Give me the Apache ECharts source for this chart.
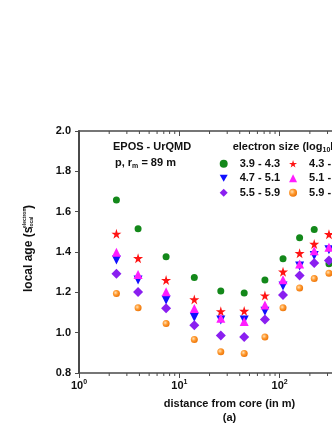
<!DOCTYPE html>
<html>
<head>
<meta charset="utf-8">
<script src="https://cdn.jsdelivr.net/npm/echarts@6/dist/echarts.min.js"></script>
<style>
  html, body { margin: 0; padding: 0; background: #fff; overflow: hidden; }
  #chart { width: 420px; height: 430px; }
</style>
</head>
<body>
<div id="chart"></div>
<script>
// distance from core (m), one bin per column
const distances = [2.36, 3.88, 7.38, 14.1, 25.9, 44.3, 71.3, 108, 158, 221, 310];

// local age per electron size bin
const age39_43 = [1.658, 1.515, 1.376, 1.274, 1.207, 1.197, 1.261, 1.366, 1.471, 1.511, 1.342];
const age43_47 = [1.490, 1.369, 1.261, 1.165, 1.106, 1.108, 1.184, 1.302, 1.394, 1.440, 1.488];
const age47_51 = [1.360, 1.261, 1.162, 1.077, 1.063, 1.063, 1.106, 1.231, 1.330, 1.383, 1.411];
const age51_55 = [1.399, 1.289, 1.203, 1.120, 1.072, 1.055, 1.137, 1.263, 1.340, 1.406, 1.424];
const age55_59 = [1.292, 1.202, 1.121, 1.037, 0.986, 0.978, 1.065, 1.187, 1.284, 1.345, 1.358];
const age59_63 = [1.194, 1.123, 1.045, 0.966, 0.905, 0.897, 0.978, 1.123, 1.221, 1.268, 1.295];

const binNames = ['3.9 - 4.3', '4.3 - 4.7', '4.7 - 5.1', '5.1 - 5.5', '5.5 - 5.9', '5.9 - 6.3'];

// log axis minor tick positions
const minorTicks = [2, 3, 4, 5, 6, 7, 8, 9, 20, 30, 40, 50, 60, 70, 80, 90, 200, 300, 400, 500, 600, 700, 800, 900];

const FONT = 'Liberation Sans, Arial, Helvetica, sans-serif';
const AXIS_COLOR = '#4a4a4a';
const STAR = 'path://M50,0 L61,35 L98,35 L68,57 L79,91 L50,70 L21,91 L32,57 L2,35 L39,35 Z';
const DOWN_TRIANGLE = 'path://M0,0 L10,0 L5,9 Z';

function pairs(ys) {
  return distances.map((d, i) => [d, ys[i]]);
}

const myChart = echarts.init(document.getElementById('chart'), null, { renderer: 'canvas' });

const seriesDefs = [
  { name: binNames[0], data: age39_43, symbol: 'circle', size: 7, color: '#13881a' },
  { name: binNames[1], data: age43_47, symbol: STAR, size: 10, color: '#ff1414' },
  { name: binNames[2], data: age47_51, symbol: 'triangle', size: 9, color: '#1010ff', rotate: 180, icon: DOWN_TRIANGLE },
  { name: binNames[3], data: age51_55, symbol: 'triangle', size: 9, color: '#ff1eff' },
  { name: binNames[4], data: age55_59, symbol: 'diamond', size: 10, color: '#8a1ff0' },
  {
    name: binNames[5], data: age59_63, symbol: 'circle', size: 7,
    color: {
      type: 'radial', x: 0.38, y: 0.38, r: 0.7,
      colorStops: [
        { offset: 0, color: '#ffe1b5' },
        { offset: 0.45, color: '#ff9a30' },
        { offset: 1, color: '#e96d00' }
      ]
    }
  }
];

const scatter = seriesDefs.map(s => ({
  name: s.name,
  type: 'scatter',
  xAxisIndex: 0,
  yAxisIndex: 0,
  symbol: s.symbol,
  symbolSize: s.size,
  symbolRotate: s.rotate || 0,
  itemStyle: { color: s.color, opacity: 1 },
  data: pairs(s.data),
  z: 3
}));

myChart.setOption({
  animation: false,
  textStyle: { fontFamily: FONT },
  grid: { left: 79, right: 40, top: 131, bottom: 56 },
  legend: {
    data: seriesDefs.map(s => (s.icon ? { name: s.name, icon: s.icon } : s.name)),
    left: 219.7,
    top: 157.5,
    width: 150,
    padding: 0,
    itemWidth: 8,
    itemHeight: 8,
    itemGap: 2,
    selectedMode: false,
    textStyle: {
      fontFamily: FONT, fontWeight: 'bold', fontSize: 11, color: '#111',
      lineHeight: 12.5, padding: [0, 7, 0, 7]
    }
  },
  xAxis: [
    {
      type: 'log',
      logBase: 10,
      min: 1,
      max: 1000,
      position: 'bottom',
      name: 'distance from core (in m)\n(a)',
      nameLocation: 'middle',
      nameGap: 24,
      nameTextStyle: { fontFamily: FONT, fontWeight: 'bold', fontSize: 11, color: '#111', lineHeight: 14 },
      axisLine: { show: true, onZero: false, lineStyle: { color: AXIS_COLOR, width: 1.5 } },
      axisTick: { show: true, inside: false, length: 5, lineStyle: { color: AXIS_COLOR, width: 1 } },
      splitLine: { show: false },
      axisLabel: {
        margin: 6,
        formatter: v => '{b|10}{s|' + Math.round(Math.log10(v)) + '}',
        rich: {
          b: { fontFamily: FONT, fontWeight: 'bold', fontSize: 11, color: '#111' },
          s: { fontFamily: FONT, fontWeight: 'bold', fontSize: 7, color: '#111', verticalAlign: 'top', padding: [0, 0, 6, 0] }
        }
      }
    },
    {
      type: 'log',
      logBase: 10,
      min: 1,
      max: 1000,
      position: 'top',
      axisLine: { show: true, onZero: false, lineStyle: { color: AXIS_COLOR, width: 1.5 } },
      axisTick: { show: true, inside: true, length: 5, lineStyle: { color: AXIS_COLOR, width: 1 } },
      axisLabel: { show: false },
      splitLine: { show: false }
    }
  ],
  yAxis: {
    type: 'value',
    min: 0.8,
    max: 2.0,
    interval: 0.2,
    axisLine: { show: true, onZero: false, lineStyle: { color: AXIS_COLOR, width: 2 } },
    axisTick: { show: true, inside: false, length: 4, lineStyle: { color: AXIS_COLOR, width: 1 } },
    splitLine: { show: false },
    axisLabel: {
      margin: 8,
      formatter: v => v.toFixed(1),
      fontFamily: FONT, fontWeight: 'bold', fontSize: 11, color: '#111'
    }
  },
  graphic: [
    {
      type: 'text', x: 113, y: 147,
      style: { text: 'EPOS - UrQMD', font: 'bold 11px ' + FONT, fill: '#111', verticalAlign: 'middle' }
    },
    {
      type: 'text', x: 115, y: 163,
      style: {
        text: '{n|p, r}{m|m}{n| = 89 m}',
        verticalAlign: 'middle',
        rich: {
          n: { font: 'bold 11px ' + FONT, fill: '#111' },
          m: { font: 'bold 7px ' + FONT, fill: '#111', verticalAlign: 'bottom', padding: [6, 0, 0, 0] }
        }
      }
    },
    {
      type: 'text', x: 232.7, y: 147,
      style: {
        text: '{n|electron size (log}{s|10}{n|N}{s|e}{n|)}',
        verticalAlign: 'middle',
        rich: {
          n: { font: 'bold 11px ' + FONT, fill: '#111' },
          s: { font: 'bold 7px ' + FONT, fill: '#111', verticalAlign: 'bottom', padding: [6, 0, 0, 0] }
        }
      }
    },
    {
      type: 'text', x: 29, y: 292, rotation: Math.PI / 2,
      style: { text: 'local age (s', font: 'bold 12px ' + FONT, fill: '#111', align: 'left', verticalAlign: 'middle' }
    },
    {
      type: 'text', x: 25, y: 228, rotation: Math.PI / 2,
      style: { text: 'electron', font: 'bold 5px ' + FONT, fill: '#111', align: 'left', verticalAlign: 'middle' }
    },
    {
      type: 'text', x: 31.5, y: 228, rotation: Math.PI / 2,
      style: { text: 'local', font: 'bold 5px ' + FONT, fill: '#111', align: 'left', verticalAlign: 'middle' }
    },
    {
      type: 'text', x: 29, y: 209, rotation: Math.PI / 2,
      style: { text: ')', font: 'bold 12px ' + FONT, fill: '#111', align: 'left', verticalAlign: 'middle' }
    }
  ],
  series: scatter.concat([
    {
      type: 'custom',
      name: 'minor ticks',
      silent: true,
      clip: false,
      xAxisIndex: 0,
      yAxisIndex: 0,
      data: minorTicks.map(v => [v, 0.8]),
      renderItem: function (params, api) {
        const bottom = api.coord([api.value(0), 0.8]);
        const top = api.coord([api.value(0), 2.0]);
        const style = { stroke: AXIS_COLOR, lineWidth: 1 };
        return {
          type: 'group',
          children: [
            { type: 'line', shape: { x1: bottom[0], y1: bottom[1], x2: bottom[0], y2: bottom[1] + 3 }, style: style },
            { type: 'line', shape: { x1: top[0], y1: top[1], x2: top[0], y2: top[1] + 3 }, style: style }
          ]
        };
      }
    }
  ])
});
</script>
</body>
</html>
